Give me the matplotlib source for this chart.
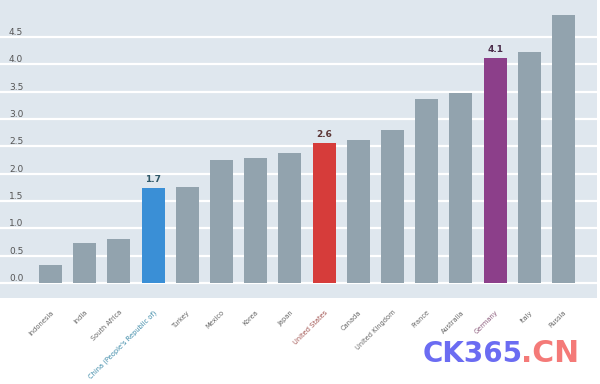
import numpy as np
import matplotlib.pyplot as plt

countries = ['Indonesia', 'India', 'South Africa', "China (People's Republic of)", 'Turkey',
             'Mexico', 'Korea', 'Japan', 'United States', 'Canada', 'United Kingdom',
             'France', 'Australia', 'Germany', 'Italy', 'Russia']
values = [0.33, 0.73, 0.80, 1.74, 1.76, 2.25, 2.29, 2.38, 2.56, 2.62, 2.80,
          3.37, 3.48, 4.12, 4.23, 4.91]
yticks = [0.0, 0.5, 1.0, 1.5, 2.0, 2.5, 3.0, 3.5, 4.0, 4.5]

# highlighted bars: name -> (bar colour, label colour, value text)
highlight = {
    "China (People's Republic of)": ('#3a8fd6', '#3d8aa8', '1.7'),
    'United States': ('#d63c3a', '#a0524f', '2.6'),
    'Germany': ('#8c3f8a', '#8a5a7a', '4.1'),
}
value_colors = {'1.7': '#2f5868', '2.6': '#5a3434', '4.1': '#4a2c4a'}

grey = '#92a3ae'
bg = '#dfe7ee'

fig = plt.figure(figsize=(6, 3.84), dpi=100)
ax = fig.add_axes([0, 86 / 384, 597 / 600, 298 / 384])
ax.set_facecolor(bg)

x = np.arange(len(countries))
colors = [highlight[c][0] if c in highlight else grey for c in countries]
bars = ax.bar(x, values, width=0.67, color=colors, zorder=3)

for b, c in zip(bars, countries):
    if c in highlight:
        txt = highlight[c][2]
        ax.annotate(txt, (b.get_x() + b.get_width() / 2, b.get_height()),
                    xytext=(0, 3), textcoords='offset points', ha='center', va='bottom',
                    fontsize=6.5, fontweight='bold', color=value_colors[txt])

ax.set_xlim(-1.476, 15.98)
ax.set_ylim(-0.275, 5.18)
ax.set_yticks(yticks)
ax.set_yticklabels([f'{v:.1f}' for v in yticks])
ax.yaxis.grid(True, color='white', linewidth=1.6, zorder=1)
ax.set_axisbelow(True)
ax.tick_params(axis='y', length=0, pad=-6.5, labelsize=6.5, labelcolor='#555555')
for lab in ax.get_yticklabels():
    lab.set_ha('left')
    lab.set_va('bottom')

ax.set_xticks(x)
ax.set_xticklabels(countries, rotation=45, ha='right', rotation_mode='anchor', fontsize=4.8)
ax.tick_params(axis='x', length=0, pad=8)
for lab, c in zip(ax.get_xticklabels(), countries):
    lab.set_color(highlight[c][1] if c in highlight else '#666666')

for s in ax.spines.values():
    s.set_visible(False)

# watermark
fig.text(423 / 600, 22 / 384, 'CK365', color='#6b6cf2', fontsize=20, fontweight='bold',
         va='baseline')
fig.text(521 / 600, 22 / 384, '.CN', color='#f47a78', fontsize=21.5, fontweight='bold',
         va='baseline')

fig.savefig('out.png', dpi=100)
